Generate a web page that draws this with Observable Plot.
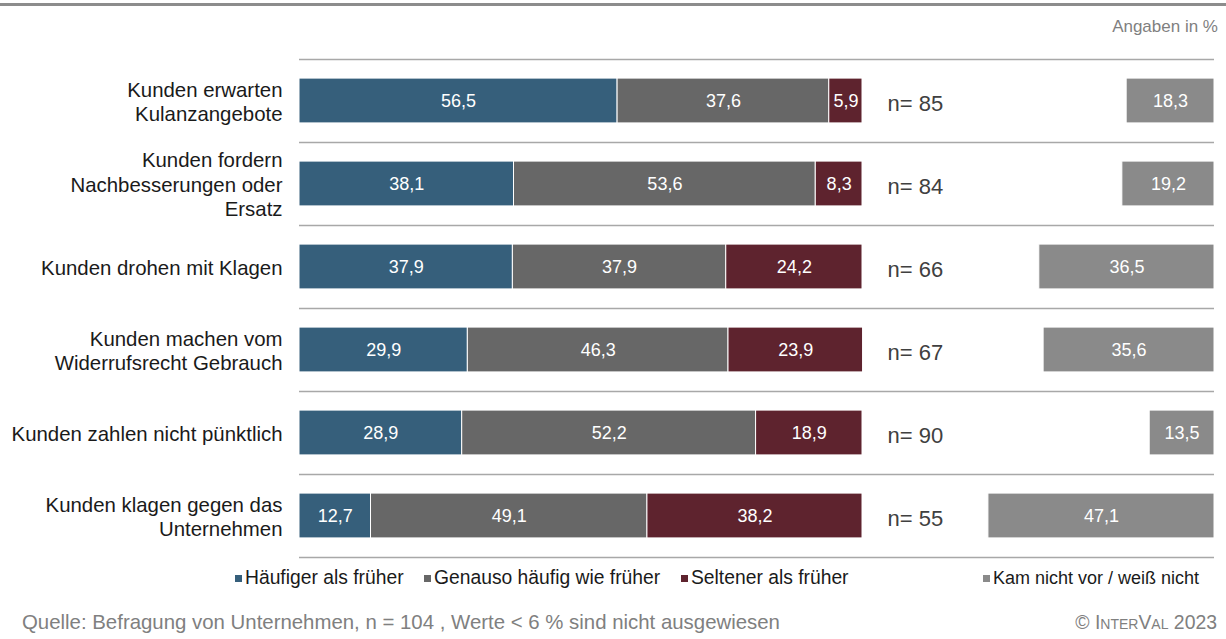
<!DOCTYPE html>
<html>
<head>
<meta charset="utf-8">
<script src="https://cdn.jsdelivr.net/npm/d3@7"></script>
<script src="https://cdn.jsdelivr.net/npm/@observablehq/plot@0.6"></script>
<style>
  html, body { margin: 0; padding: 0; background: #fff; }
  body { font-family: "Liberation Sans", Arial, sans-serif; }
  #wrap { position: relative; width: 1226px; height: 639px; overflow: hidden; }
  #wrap svg { position: absolute; left: 0; top: 0; background: transparent; }
  .topline { position: absolute; left: 0; top: 3px; width: 1226px; height: 3px; background: #8c8c8c; }
  .unit { position: absolute; right: 8px; top: 17px; font-size: 17px; color: #7f7f7f; }
  .leg { position: absolute; top: 567px; font-size: 19.3px; color: #1a1a1a; white-space: nowrap; line-height: 22px; }
  .leg.last { font-size: 18px; }
  .leg i { display: inline-block; width: 7px; height: 7px; margin-right: 3px; vertical-align: 2px; }
  .foot { position: absolute; top: 610px; font-size: 20.4px; color: #808080; white-space: nowrap; line-height: 24px; }
  .foot.r { font-size: 19.4px; }
  .sc { font-variant: small-caps; }
</style>
</head>
<body>
<div id="wrap">
  <div class="topline"></div>
  <div class="unit">Angaben in %</div>
</div>
<script>
const categories = [
  "Kunden erwarten\nKulanzangebote",
  "Kunden fordern\nNachbesserungen oder\nErsatz",
  "Kunden drohen mit Klagen",
  "Kunden machen vom\nWiderrufsrecht Gebrauch",
  "Kunden zahlen nicht pünktlich",
  "Kunden klagen gegen das\nUnternehmen"
];
const seriesNames = ["Häufiger als früher", "Genauso häufig wie früher", "Seltener als früher"];
const seriesColors = ["#365f7b", "#676767", "#5e232e"];
const haeufiger = [56.5, 38.1, 37.9, 29.9, 28.9, 12.7];
const genauso   = [37.6, 53.6, 37.9, 46.3, 52.2, 49.1];
const seltener  = [5.9, 8.3, 24.2, 23.9, 18.9, 38.2];
const restName = "Kam nicht vor / weiß nicht";
const restColor = "#8a8a8a";
const kamNicht  = [18.3, 19.2, 36.5, 35.6, 13.5, 47.1];
const nValues   = [85, 84, 66, 67, 90, 55];

const fmt = v => v.toFixed(1).replace(".", ",");
const seriesValues = [haeufiger, genauso, seltener];
const long = [];
categories.forEach((cat, i) => {
  seriesNames.forEach((s, j) => long.push({cat, series: s, value: seriesValues[j][i]}));
});
const restRows = categories.map((cat, i) => ({cat, value: kamNicht[i]}));
const nRows = categories.map((cat, i) => ({cat, n: nValues[i]}));

const font = '"Liberation Sans", Arial, sans-serif';
const yTop = 58, yBottom = 557;
const step = (yBottom - yTop) / categories.length;
const inset = (step - 45) / 2;
const sepColor = "#a8a8a8";

const main = Plot.plot({
  width: 1226, height: 639,
  marginLeft: 299, marginRight: 12, marginTop: 0, marginBottom: 0,
  x: {domain: [0, 100], range: [299, 862], axis: null},
  y: {domain: categories, range: [yTop, yBottom], padding: 0, axis: null},
  color: {domain: seriesNames, range: seriesColors},
  style: {fontFamily: font, background: "transparent", overflow: "visible"},
  marks: [
    Plot.ruleY(categories, {y: d => d, dy: -step / 2, stroke: sepColor, strokeWidth: 1.5}),
    Plot.ruleY(categories.slice(-1), {y: d => d, dy: step / 2, stroke: sepColor, strokeWidth: 1.5}),
    Plot.barX(long, {x: "value", y: "cat", fill: "series", order: seriesNames,
      insetTop: inset, insetBottom: inset, stroke: "white", strokeWidth: 1}),
    Plot.text(long, Plot.stackX({x: "value", y: "cat", z: "series", order: seriesNames,
      text: d => fmt(d.value), fill: "white", fontSize: 18})),
    Plot.text(categories, {x: 0, y: d => d, text: d => d, textAnchor: "end", dx: -17,
      fontSize: 20.4, lineHeight: 1.2, fill: "#1a1a1a"}),
    Plot.text(nRows, {x: 100, y: "cat", text: d => "n= " + d.n, textAnchor: "start",
      dx: 25, dy: 3, fontSize: 22, fill: "#404040"})
  ]
});

const right = Plot.plot({
  width: 1226, height: 639,
  marginLeft: 0, marginRight: 0, marginTop: 0, marginBottom: 0,
  x: {domain: [0, 100], range: [1214, 734], axis: null},
  y: {domain: categories, range: [yTop, yBottom], padding: 0, axis: null},
  style: {fontFamily: font, background: "transparent"},
  marks: [
    Plot.barX(restRows, {x: "value", y: "cat", fill: restColor,
      insetTop: inset, insetBottom: inset, stroke: "white", strokeWidth: 1}),
    Plot.text(restRows, Plot.stackX({x: "value", y: "cat", text: d => fmt(d.value),
      fill: "white", fontSize: 18}))
  ]
});

const wrap = document.getElementById("wrap");
wrap.appendChild(main);
wrap.appendChild(right);

// legend
const legendX = [235, 424, 681, 983];
const legendItems = seriesNames.map((s, i) => ({name: s, color: seriesColors[i]}))
  .concat([{name: restName, color: restColor}]);
legendItems.forEach((it, i) => {
  const d = document.createElement("div");
  d.className = i === legendItems.length - 1 ? "leg last" : "leg";
  d.style.left = legendX[i] + "px";
  const m = document.createElement("i");
  m.style.background = it.color;
  d.appendChild(m);
  d.appendChild(document.createTextNode(it.name));
  wrap.appendChild(d);
});

// footer
const f1 = document.createElement("div");
f1.className = "foot"; f1.style.left = "22px";
f1.textContent = "Quelle: Befragung von Unternehmen, n = 104 , Werte < 6 % sind nicht ausgewiesen";
wrap.appendChild(f1);
const f2 = document.createElement("div");
f2.className = "foot r"; f2.style.right = "9px";
f2.innerHTML = '© <span class="sc">InterVal</span> 2023';
wrap.appendChild(f2);
</script>
</body>
</html>
